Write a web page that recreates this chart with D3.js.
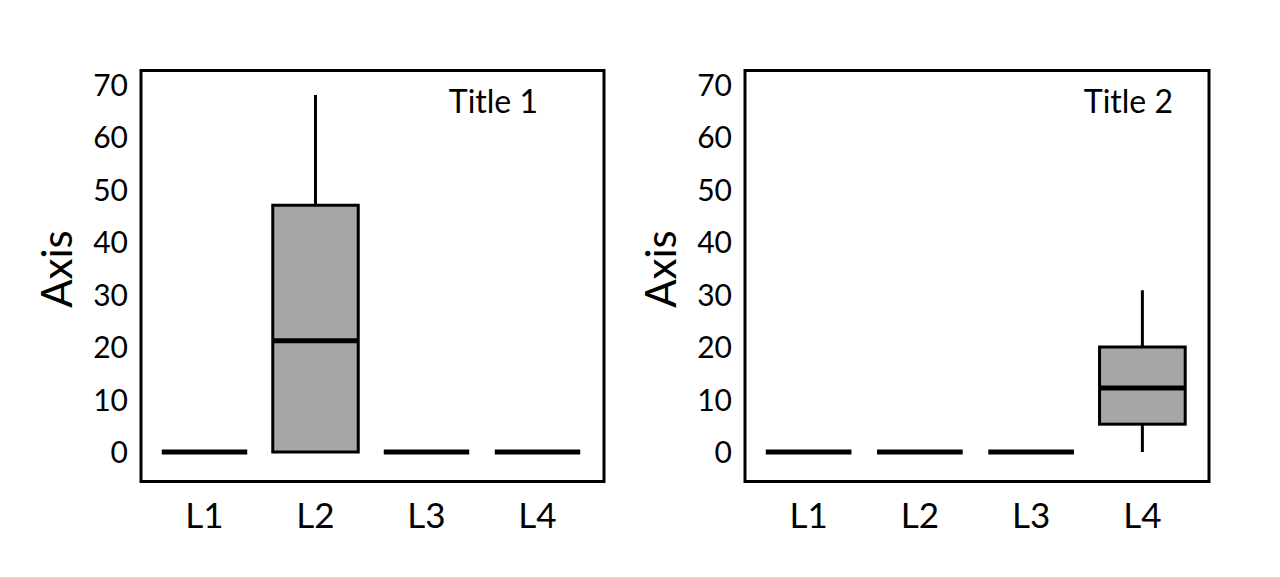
<!DOCTYPE html>
<html>
<head>
<meta charset="utf-8">
<script src="https://cdn.jsdelivr.net/npm/d3@7"></script>
<style>
  body { margin: 0; background: #fff; }
  text { font-family: Lato, "Open Sans", sans-serif; fill: #000; }
</style>
</head>
<body>
<div id="chart"></div>
<script>
// data
var categories = ["L1", "L2", "L3", "L4"];
var yTicks = [0, 10, 20, 30, 40, 50, 60, 70];
var titles = ["Title 1", "Title 2"];
var yLabel = "Axis";

var p1Min    = [0, 0,  0, 0];
var p1Q1     = [0, 0,  0, 0];
var p1Median = [0, 21.2, 0, 0];
var p1Q3     = [0, 47, 0, 0];
var p1Max    = [0, 68, 0, 0];

var p2Min    = [0, 0, 0, 0];
var p2Q1     = [0, 0, 0, 5.3];
var p2Median = [0, 0, 0, 12.2];
var p2Q3     = [0, 0, 0, 20];
var p2Max    = [0, 0, 0, 30.8];

var width = 1280, height = 577;

var svg = d3.select("#chart").append("svg")
    .attr("width", width)
    .attr("height", height);

// frame boxes for each panel
var panels = [
  {left: 141, right: 604, title: titles[0], titleRight: 538,
   min: p1Min, q1: p1Q1, med: p1Median, q3: p1Q3, max: p1Max},
  {left: 745, right: 1209, title: titles[1], titleRight: 1173,
   min: p2Min, q1: p2Q1, med: p2Median, q3: p2Q3, max: p2Max}
];
var frameTop = 70.5, frameBottom = 481.5;

var y = d3.scaleLinear().domain([0, 70]).range([452, 84.5]);

panels.forEach(function(p) {
  var g = svg.append("g");

  var x = d3.scaleBand()
      .domain(categories)
      .range([p.left + 8, p.right - 11])
      .paddingInner(0.23)
      .paddingOuter(0.115);

  var rows = categories.map(function(c, i) {
    return {cat: c, min: p.min[i], q1: p.q1[i], med: p.med[i], q3: p.q3[i], max: p.max[i]};
  });

  // whiskers
  g.selectAll(".whisk-hi")
    .data(rows.filter(function(d) { return d.max > d.q3; }))
    .enter().append("line")
      .attr("x1", function(d) { return x(d.cat) + x.bandwidth() / 2; })
      .attr("x2", function(d) { return x(d.cat) + x.bandwidth() / 2; })
      .attr("y1", function(d) { return y(d.q3); })
      .attr("y2", function(d) { return y(d.max); })
      .attr("stroke", "#000").attr("stroke-width", 3);

  g.selectAll(".whisk-lo")
    .data(rows.filter(function(d) { return d.min < d.q1; }))
    .enter().append("line")
      .attr("x1", function(d) { return x(d.cat) + x.bandwidth() / 2; })
      .attr("x2", function(d) { return x(d.cat) + x.bandwidth() / 2; })
      .attr("y1", function(d) { return y(d.q1); })
      .attr("y2", function(d) { return y(d.min); })
      .attr("stroke", "#000").attr("stroke-width", 3);

  // boxes
  g.selectAll(".box")
    .data(rows.filter(function(d) { return d.q3 > d.q1; }))
    .enter().append("rect")
      .attr("x", function(d) { return x(d.cat); })
      .attr("y", function(d) { return y(d.q3); })
      .attr("width", x.bandwidth())
      .attr("height", function(d) { return y(d.q1) - y(d.q3); })
      .attr("fill", "#a6a6a6")
      .attr("stroke", "#000").attr("stroke-width", 3);

  // medians
  g.selectAll(".med")
    .data(rows)
    .enter().append("line")
      .attr("x1", function(d) { return x(d.cat); })
      .attr("x2", function(d) { return x(d.cat) + x.bandwidth(); })
      .attr("y1", function(d) { return y(d.med); })
      .attr("y2", function(d) { return y(d.med); })
      .attr("stroke", "#000").attr("stroke-width", 5);

  // frame
  g.append("rect")
    .attr("x", p.left)
    .attr("y", frameTop)
    .attr("width", p.right - p.left)
    .attr("height", frameBottom - frameTop)
    .attr("fill", "none")
    .attr("stroke", "#000").attr("stroke-width", 3);

  // y axis
  var yAx = g.append("g")
    .attr("transform", "translate(" + (p.left - 1) + ",0)")
    .call(d3.axisLeft(y).tickValues(yTicks).tickSize(0).tickPadding(12));
  yAx.select(".domain").remove();
  yAx.selectAll("text")
    .style("font-family", "Lato, sans-serif")
    .style("font-size", "30px")
    .attr("dy", "0.36em");

  // x axis labels
  var xAx = g.append("g")
    .attr("transform", "translate(0," + frameBottom + ")")
    .call(d3.axisBottom(x).tickSize(0).tickPadding(22));
  xAx.select(".domain").remove();
  xAx.selectAll("text")
    .style("font-family", "Lato, sans-serif")
    .style("font-size", "35px")
    .attr("dy", "0.71em");

  // y label
  g.append("text")
    .attr("transform", "translate(" + (p.left - 69) + "," + 269 + ") rotate(-90)")
    .style("text-anchor", "middle")
    .style("font-size", "42px")
    .text(yLabel);

  // panel title
  g.append("text")
    .attr("x", p.titleRight)
    .attr("y", 113)
    .style("text-anchor", "end")
    .style("font-size", "32px")
    .text(p.title);
});
</script>
</body>
</html>
